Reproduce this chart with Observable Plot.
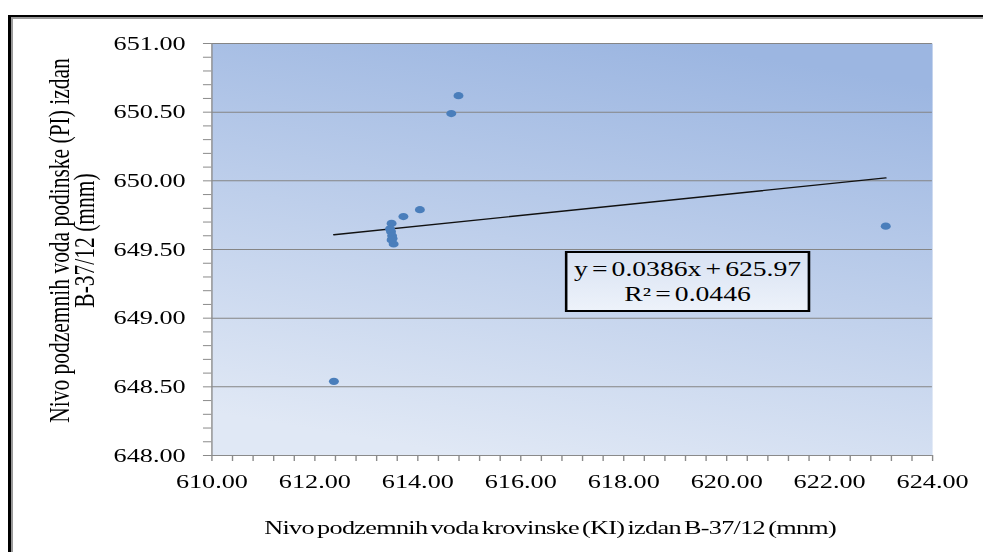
<!DOCTYPE html>
<html><head><meta charset="utf-8">
<script src="https://cdn.jsdelivr.net/npm/d3@7"></script>
<script src="https://cdn.jsdelivr.net/npm/@observablehq/plot@0.6"></script>
<style>
html,body{margin:0;padding:0;background:#fff;}
body{width:983px;height:552px;overflow:hidden;position:relative;font-family:"Liberation Serif","Times New Roman",serif;}
#frame{position:absolute;left:8px;top:15px;width:990px;height:560px;border-top:2px solid #000;border-left:3px solid #000;box-shadow:inset 2px 2px 0 #9a9a9a;pointer-events:none;}
#stage{position:absolute;left:0;top:0;width:712px;height:552px;transform:scaleX(1.3806);transform-origin:0 0;}
#eq{position:absolute;left:409px;top:251px;width:178px;height:61px;box-sizing:border-box;border:2px solid #000;background:linear-gradient(#d8e2f3,#edf2fa);text-align:center;font-size:20px;line-height:25px;color:#000;padding-top:4px;word-spacing:-2px;}
</style></head><body>
<div id="stage"><div id="chart"></div><div id="eq"></div></div>
<div id="frame"></div>
<script>
// Data
const xValues = [612.37, 613.49, 613.46, 613.48, 613.50, 613.51, 613.53, 613.49, 613.72, 614.04, 614.65, 614.79, 623.09];
const yValues = [648.54, 649.69, 649.65, 649.63, 649.60, 649.58, 649.54, 649.57, 649.74, 649.79, 650.49, 650.62, 649.67];
const slope = 0.0386, intercept = 625.97, rSquared = 0.0446;
const xTicks = [610, 612, 614, 616, 618, 620, 622, 624];
const xTickLabels = ["610.00", "612.00", "614.00", "616.00", "618.00", "620.00", "622.00", "624.00"];
const yTicks = [648, 648.5, 649, 649.5, 650, 650.5, 651];
const yTickLabels = ["648.00", "648.50", "649.00", "649.50", "650.00", "650.50", "651.00"];
const xTitle = "Nivo podzemnih voda krovinske (KI) izdan B-37/12 (mnm)";
const yTitle = "Nivo podzemnih voda podinske (PI) izdan\nB-37/12 (mnm)";
const eqLines = [`y = ${slope}x + ${intercept}`, `R² = ${rSquared}`];

const points = xValues.map((x, i) => ({x, y: yValues[i]}));
const xMin = d3.min(xValues), xMax = d3.max(xValues);
const trend = [xMin, xMax].map(x => ({x, y: slope * x + intercept}));
const xMinor = d3.range(0, 36).map(i => xTicks[0] + i * 0.4);
const yMinor = d3.range(0, 31).map(i => yTicks[0] + i * 0.1);

const defs = () => {
  const d = d3.create("svg:defs");
  const g = d.append("linearGradient").attr("id", "plotbg")
    .attr("x1", "0.35").attr("y1", "1").attr("x2", "0.65").attr("y2", "0");
  g.append("stop").attr("offset", "0").attr("stop-color", "#e0e8f5");
  g.append("stop").attr("offset", "1").attr("stop-color", "#9cb6e1");
  return d.node();
};

const chart = Plot.plot({
  width: 712,
  height: 552,
  marginLeft: 153,
  marginRight: 37,
  marginTop: 43,
  marginBottom: 97,
  style: {background: "none", color: "#000", fontFamily: "'Liberation Serif','Times New Roman',serif", fontSize: "19px", overflow: "visible"},
  x: {domain: [xTicks[0], xTicks[xTicks.length - 1]], label: null},
  y: {domain: [yTicks[0], yTicks[yTicks.length - 1]], label: null},
  marks: [
    defs,
    Plot.frame({fill: "url(#plotbg)", stroke: "none"}),
    Plot.ruleY(yTicks.slice(1), {stroke: "#858585", strokeWidth: 1}),
    Plot.ruleY([yTicks[0]], {stroke: "#8a8a8a"}),
    Plot.ruleX([xTicks[0]], {stroke: "#8a8a8a"}),
    Plot.axisY(yMinor, {tickSize: 6, tickFormat: () => "", label: null, stroke: "#8a8a8a"}),
    Plot.axisY(yTicks, {tickSize: 0, tickPadding: 19, tickFormat: d => yTickLabels[yTicks.indexOf(d)], fontSize: 19, label: null}),
    Plot.axisX(xMinor, {tickSize: 6, tickFormat: () => "", label: null, stroke: "#8a8a8a"}),
    Plot.axisX(xTicks, {tickSize: 0, tickPadding: 19, tickFormat: d => xTickLabels[xTicks.indexOf(d)], fontSize: 19, label: null}),
    Plot.line(trend, {x: "x", y: "y", stroke: "#111", strokeWidth: 1.4}),
    Plot.dot(points, {x: "x", y: "y", r: 3.6, fill: "#4a7ebb", stroke: "none"}),
    Plot.text([xTitle], {text: d => d, frameAnchor: "bottom", textAnchor: "middle", lineAnchor: "middle", dy: 72, dx: -16, fontSize: 19, fill: "#000"}),
    Plot.text([yTitle], {text: d => d, frameAnchor: "left", textAnchor: "middle", lineAnchor: "middle", rotate: -90, dx: -100, dy: -9, fontSize: 21.5, lineHeight: 0.84, fill: "#000"})
  ]
});
d3.select(chart).selectAll("text")
  .filter(function() { return this.textContent === xTitle; })
  .style("word-spacing", "-2px").style("letter-spacing", "-0.5px");
document.getElementById("chart").appendChild(chart);
document.getElementById("eq").innerHTML = eqLines.map(s => `<div>${s}</div>`).join("");
</script>
</body></html>
